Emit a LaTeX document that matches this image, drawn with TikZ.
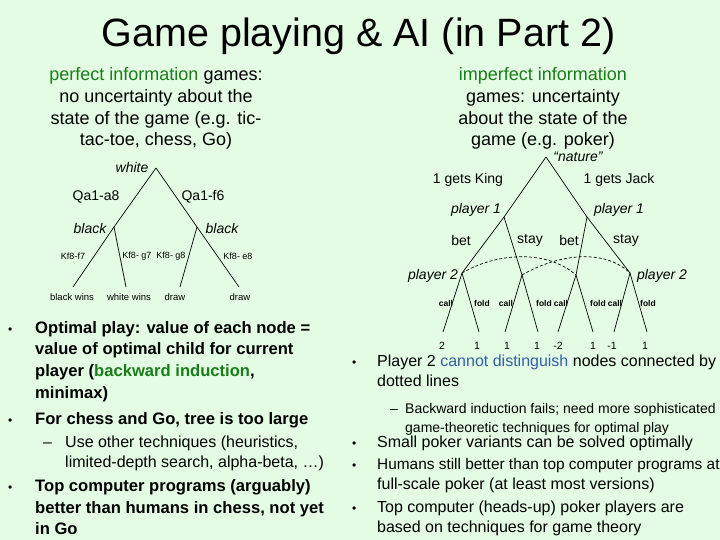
\documentclass[tikz,border=0pt]{standalone}
\usepackage{fontspec}
\setmainfont{Liberation Sans}
\definecolor{bg}{RGB}{228,252,228}
\definecolor{grn}{RGB}{25,125,25}
\definecolor{blu}{RGB}{50,95,165}
\newcommand{\myfs}[1]{\fontsize{#1}{#1}\selectfont}
\begin{document}
\begin{tikzpicture}[x=1pt,y=-1pt,
  ctr/.style={anchor=base,inner sep=0pt},
  lft/.style={anchor=base west,inner sep=0pt},
  lbl/.style={inner sep=0pt},
  edge/.style={line width=0.7pt,black},
  infoset/.style={line width=0.7pt,dash pattern=on 3pt off 2pt},
  bigb/.style={lft,font=\myfs{16.6}\bfseries},
  smallr/.style={lft,font=\myfs{16}},
  subl/.style={lft,font=\myfs{16}},
  subr/.style={lft,font=\myfs{14}},
  bul/.style={lft,font=\myfs{12}},
  mv/.style={lbl,font=\myfs{14}},
  pl/.style={lbl,font=\myfs{14}\itshape},
  tiny/.style={lbl,font=\myfs{9}},
  cf/.style={lbl,font=\myfs{8.5}\bfseries},
  val/.style={lbl,font=\myfs{10.5}}]
\useasboundingbox (0,0) rectangle (720,540);
\fill[bg] (0,0) rectangle (720,540);

% title
\node[ctr,font=\myfs{39.5}] (title) at (358.5,47) {Game playing \& AI (in Part 2)};

% top blocks
\node[ctr,font=\myfs{18}] (pa) at (156,81) {\textcolor{grn}{perfect information} games:};
\node[ctr,font=\myfs{18}] (pb) at (156,102.6) {no uncertainty about the};
\node[ctr,font=\myfs{18}] (pc) at (156,124.2) {state of the game (e.g. tic-};
\node[ctr,font=\myfs{18}] (pd) at (156,145.8) {tac-toe, chess, Go)};
\node[ctr,font=\myfs{18}] (ia) at (543,81) {\textcolor{grn}{imperfect information}};
\node[ctr,font=\myfs{18}] (ib) at (543,102.6) {games: uncertainty};
\node[ctr,font=\myfs{18}] (ic) at (543,124.2) {about the state of the};
\node[ctr,font=\myfs{18}] (id) at (543,145.8) {game (e.g. poker)};

% chess tree
\coordinate (w) at (156,168);
\coordinate (bL) at (114,227);
\coordinate (bR) at (197,227);
\coordinate (c1) at (73,287);
\coordinate (c2) at (126,287);
\coordinate (c3) at (180,287);
\coordinate (c4) at (239,287);
\draw[edge] (w) -- (bL); \draw[edge] (w) -- (bR);
\draw[edge] (bL) -- (c1); \draw[edge] (bL) -- (c2);
\draw[edge] (bR) -- (c3); \draw[edge] (bR) -- (c4);
\node[pl] (lw) at (132,167) {white};
\node[mv] (m1) at (96,197) {Qa1-a8};
\node[mv] (m2) at (203,197) {Qa1-f6};
\node[pl] (lb1) at (90,228) {black};
\node[pl] (lb2) at (222,228) {black};
\node[tiny] (k1) at (73,256) {Kf8-f7};
\node[tiny] (k2) at (137,256) {Kf8- g7};
\node[tiny] (k3) at (171,256) {Kf8- g8};
\node[tiny] (k4) at (238,256) {Kf8- e8};
\node[tiny,font=\myfs{9.5}] (r1) at (72,297) {black wins};
\node[tiny,font=\myfs{9.5}] (r2) at (129,297) {white wins};
\node[tiny,font=\myfs{9.5}] (r3) at (175,297) {draw};
\node[tiny,font=\myfs{9.5}] (r4) at (240,297) {draw};

% poker tree
\coordinate (nat) at (546,157);
\coordinate (p1L) at (504,217);
\coordinate (p1R) at (587,217);
\coordinate (n1) at (462,273);
\coordinate (n2) at (522,275);
\coordinate (n3) at (576,275);
\coordinate (n4) at (630,273);
\coordinate (e1) at (443,332);
\coordinate (e2) at (479,332);
\coordinate (e3) at (505,332);
\coordinate (e4) at (538,332);
\coordinate (e5) at (558,332);
\coordinate (e6) at (593,332);
\coordinate (e7) at (614,332);
\coordinate (e8) at (647,332);
\draw[edge] (nat) -- (p1L); \draw[edge] (nat) -- (p1R);
\draw[edge] (p1L) -- (n1); \draw[edge] (p1L) -- (n2);
\draw[edge] (p1R) -- (n3); \draw[edge] (p1R) -- (n4);
\draw[edge] (n1) -- (e1); \draw[edge] (n1) -- (e2);
\draw[edge] (n2) -- (e3); \draw[edge] (n2) -- (e4);
\draw[edge] (n3) -- (e5); \draw[edge] (n3) -- (e6);
\draw[edge] (n4) -- (e7); \draw[edge] (n4) -- (e8);
\draw[infoset] (n1) .. controls +(40,-23) and +(-26,-23) .. (n3);
\draw[infoset] (n2) .. controls +(40,-23) and +(-24,-23) .. (n4);
\node[pl] (lnat) at (578,157) {“nature”};
\node[mv] (g1) at (468,180) {1 gets King};
\node[mv] (g2) at (619,180) {1 gets Jack};
\node[pl] (lp1a) at (476,210) {player 1};
\node[pl] (lp1b) at (619,210) {player 1};
\node[mv] (s1) at (461,240) {bet};
\node[mv] (s2) at (530,240) {stay};
\node[mv] (s3) at (569,240) {bet};
\node[mv] (s4) at (626,240) {stay};
\node[pl] (lp2a) at (433,276) {player 2};
\node[pl] (lp2b) at (662,276) {player 2};
\node[cf] (f1) at (446,303) {call};
\node[cf] (f2) at (482,303) {fold};
\node[cf] (f3) at (506,303) {call};
\node[cf] (f4) at (544,303) {fold};
\node[cf] (f5) at (561,303) {call};
\node[cf] (f6) at (598,303) {fold};
\node[cf] (f7) at (615,303) {call};
\node[cf] (f8) at (648,303) {fold};
\node[val] (v1) at (442,346) {2};
\node[val] (v2) at (477,346) {1};
\node[val] (v3) at (507,346) {1};
\node[val] (v4) at (537,346) {1};
\node[val] (v5) at (558,346) {-2};
\node[val] (v6) at (593,346) {1};
\node[val] (v7) at (612,346) {-1};
\node[val] (v8) at (645,346) {1};

% left bullets
\node[bul] (bl1) at (8,333) {•};
\node[bul] (bl2) at (8,424) {•};
\node[bul] (bl3) at (8,491) {•};
\node[bigb] (la) at (35,333) {Optimal play: value of each node =};
\node[bigb] (lb) at (35,354.6) {value of optimal child for current};
\node[bigb] (lc) at (35,376) {player (\textcolor{grn}{backward induction},};
\node[bigb] (ld) at (35,398) {minimax)};
\node[bigb] (le) at (35,424) {For chess and Go, tree is too large};
\node[subl] (dl) at (43,447.5) {–};
\node[subl] (lf) at (65,447.5) {Use other techniques (heuristics,};
\node[subl] (lg) at (65,467.5) {limited-depth search, alpha-beta, …)};
\node[bigb] (lh) at (35,491) {Top computer programs (arguably)};
\node[bigb] (li) at (35,513) {better than humans in chess, not yet};
\node[bigb] (lj) at (35,534) {in Go};

% right bullets
\node[bul] (br1) at (352,366.5) {•};
\node[bul] (br2) at (352,447.5) {•};
\node[bul] (br3) at (352,469.5) {•};
\node[bul] (br4) at (352,512.5) {•};
\node[smallr] (ra) at (377,366.5) {Player 2 \textcolor{blu}{cannot distinguish} nodes connected by};
\node[smallr] (rb) at (377,386.5) {dotted lines};
\node[subr] (dr) at (390,413) {–};
\node[subr] (rc) at (405,413) {Backward induction fails; need more sophisticated};
\node[subr] (rd) at (405,432) {game-theoretic techniques for optimal play};
\node[smallr] (re) at (377,447.5) {Small poker variants can be solved optimally};
\node[smallr,font=\myfs{15.4}] (rf) at (377,469.5) {Humans still better than top computer programs at};
\node[smallr] (rg) at (377,489.5) {full-scale poker (at least most versions)};
\node[smallr] (rh) at (377,512.5) {Top computer (heads-up) poker players are};
\node[smallr] (ri) at (377,532.5) {based on techniques for game theory};
\end{tikzpicture}
\end{document}
